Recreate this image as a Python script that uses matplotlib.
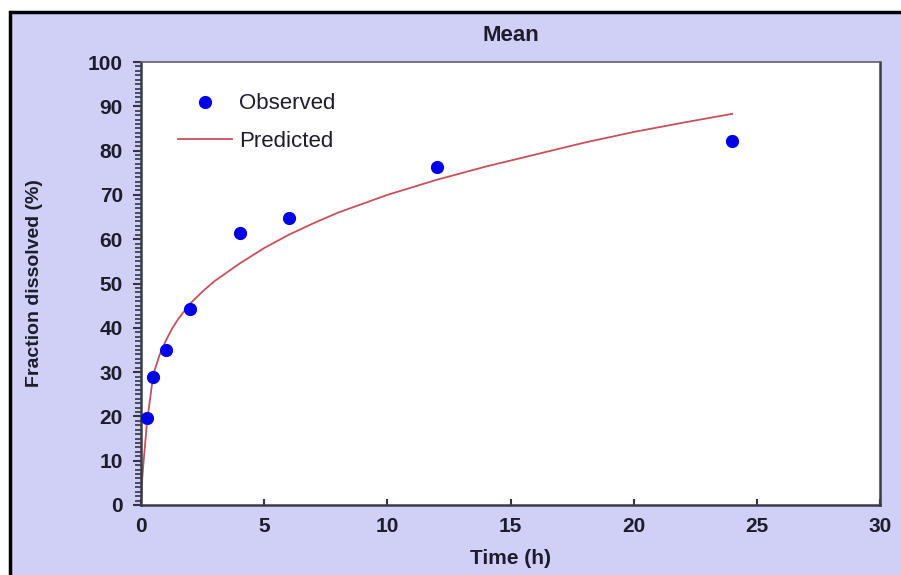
import numpy as np
import matplotlib.pyplot as plt
from matplotlib.patches import Rectangle
from matplotlib.ticker import MultipleLocator

plt.rcParams['font.family'] = ['Liberation Sans', 'DejaVu Sans']

# observed mean fraction dissolved
obs_time = [0.25, 0.5, 1, 2, 4, 6, 12, 24]
obs_frac = [19.7, 29.0, 35.1, 44.2, 61.3, 64.8, 76.2, 82.1]

# predicted profile
pred_time = [0, 0.05, 0.1, 0.25, 0.5, 0.75, 1, 1.25, 1.5, 2, 2.5, 3, 4, 5, 6, 7, 8, 10,
             12, 14, 16, 18, 20, 22, 24]
pred_frac = [0, 6.0, 9.5, 19.0, 29.5, 33.8, 37.0, 39.7, 41.9, 45.5, 48.2, 50.6, 54.5,
             58.0, 61.0, 63.6, 66.0, 70.0, 73.4, 76.4, 79.1, 81.8, 84.2, 86.3, 88.3]

bg = '#d0d0f6'
txt = '#1c1c2c'

fig = plt.figure(figsize=(9.01, 5.75), dpi=100)
fig.patch.set_facecolor('white')
# lavender panel with black frame (right and bottom edges fall outside the image)
fig.patches.append(Rectangle((10 / 901, -0.05), 1.05, 1.05 - 12 / 575, transform=fig.transFigure,
                             facecolor=bg, edgecolor='black', linewidth=2.5, zorder=-1))

ax = fig.add_axes([141 / 901, 1 - 505 / 575, (880 - 141) / 901, (505 - 62) / 575])
ax.set_facecolor('white')

ax.plot(pred_time, pred_frac, color='#c8505a', lw=1.3, label='Predicted', zorder=2)
ax.plot(obs_time, obs_frac, 'o', color='#0000e6', ms=8.5, label='Observed', zorder=3)

ax.set_xlim(0, 30)
ax.set_ylim(0, 100)
ax.xaxis.set_major_locator(MultipleLocator(5))
ax.yaxis.set_major_locator(MultipleLocator(10))
ax.yaxis.set_minor_locator(MultipleLocator(1))

ax.tick_params(axis='y', which='major', direction='out', length=6, width=1.5, color='#333344',
               labelsize=15, labelcolor=txt, pad=7)
ax.tick_params(axis='y', which='minor', direction='out', length=4, width=1.2, color='#333344')
ax.tick_params(axis='x', which='major', direction='in', length=4, width=1.5, color='#333344',
               labelsize=15, labelcolor=txt, pad=9)
for lab in ax.get_xticklabels() + ax.get_yticklabels():
    lab.set_fontweight('bold')

for side in ['left', 'bottom', 'right', 'top']:
    ax.spines[side].set_color('#3a3a48')
    ax.spines[side].set_linewidth(1.8)
ax.spines['top'].set_linewidth(1.2)
ax.spines['top'].set_color('#606070')

ax.set_title('Mean', fontsize=16, fontweight='bold', color=txt, pad=15)
ax.set_xlabel('Time (h)', fontsize=15, fontweight='bold', color=txt, labelpad=9)
ax.set_ylabel('Fraction dissolved (%)', fontsize=14, fontweight='bold', color=txt, labelpad=32)

handles, labels = ax.get_legend_handles_labels()
ax.legend(handles[::-1], labels[::-1], loc='upper left', bbox_to_anchor=(0.05, 0.929),
          frameon=False, fontsize=16, handlelength=2.45, handletextpad=0.3,
          borderpad=0, borderaxespad=0, labelspacing=0.75, labelcolor=txt, numpoints=1)

fig.savefig('out.png', dpi=100, facecolor=fig.get_facecolor())
